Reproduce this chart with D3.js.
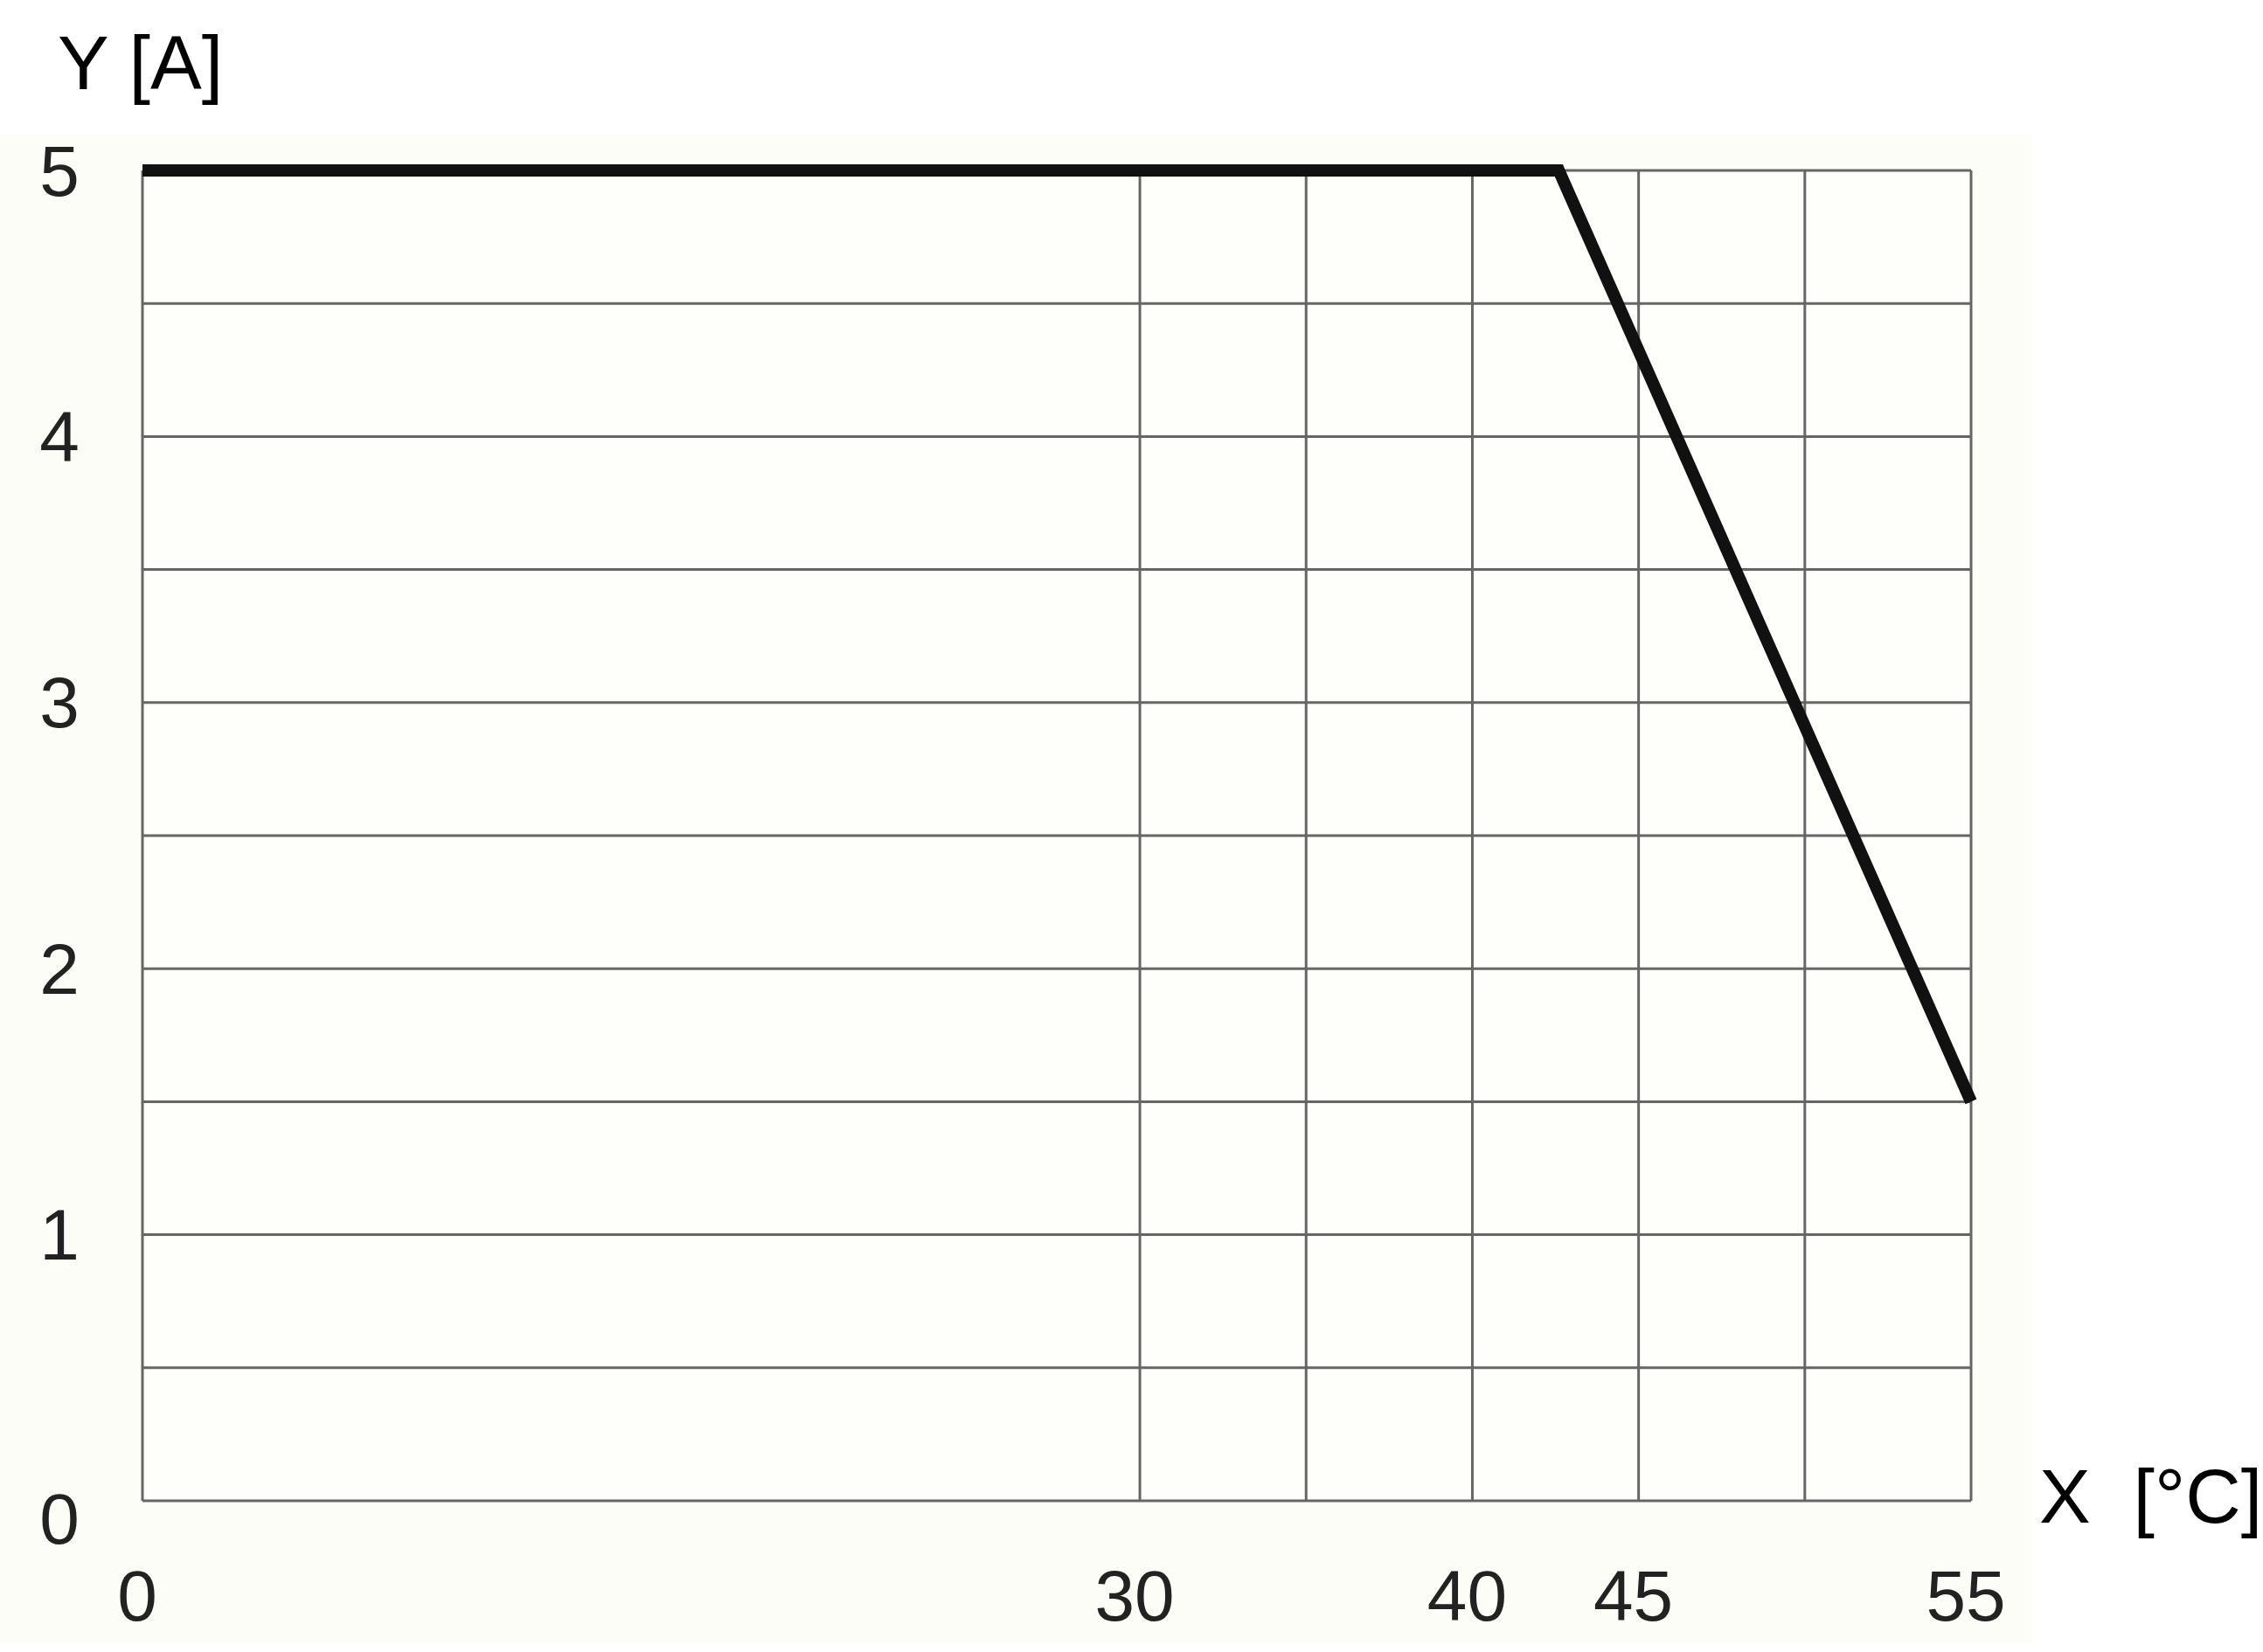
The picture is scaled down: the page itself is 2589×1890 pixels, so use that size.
<!DOCTYPE html>
<html><head><meta charset="utf-8">
<script src="https://cdn.jsdelivr.net/npm/d3@7"></script>
<style>html,body{margin:0;padding:0;background:#fff;}svg{display:block;}</style>
</head><body>
<svg id="chart" width="2589" height="1890"></svg>
<script>
const xLabelTicks = [0, 30, 40, 45, 55];
const xGridTicks = [0, 30, 35, 40, 45, 50, 55];
const yLabelTicks = [0, 1, 2, 3, 4, 5];
const yGridTicks = [0, 0.5, 1, 1.5, 2, 2.5, 3, 3.5, 4, 4.5, 5];
const curveX = [0, 42.6, 55];
const curveY = [5, 5, 1.5];
const yTitle = "Y [A]";
const xTitle = "X\u00a0\u00a0[\u00b0C]";

const svg = d3.select("#chart");
const font = "Liberation Sans, Arial, sans-serif";
const L = 163, R = 2255, T = 195, B = 1717;
const x = d3.scaleLinear().domain([0, 55]).range([L, R]);
const y = d3.scaleLinear().domain([0, 5]).range([B, T]);

svg.append("rect").attr("x", 0).attr("y", 155).attr("width", 2325).attr("height", 1725).attr("fill", "#fdfdf7");
svg.append("rect").attr("x", L).attr("y", T).attr("width", R - L).attr("height", B - T).attr("fill", "#fefefb");

const g = svg.append("g");
g.selectAll("line.h").data(yGridTicks).join("line").attr("class", "h")
  .attr("x1", L).attr("x2", R).attr("y1", d => y(d)).attr("y2", d => y(d))
  .attr("stroke", "#666").attr("stroke-width", 3);
g.selectAll("line.v").data(xGridTicks).join("line").attr("class", "v")
  .attr("x1", d => x(d)).attr("x2", d => x(d)).attr("y1", T).attr("y2", B)
  .attr("stroke", "#666").attr("stroke-width", 3);

const pts = curveX.map((d, i) => [d, curveY[i]]);
svg.append("path").datum(pts)
  .attr("d", d3.line().x(d => x(d[0])).y(d => y(d[1])))
  .attr("fill", "none").attr("stroke", "#111").attr("stroke-width", 14)
  .attr("stroke-linejoin", "miter").attr("stroke-linecap", "butt");

svg.selectAll("text.yt").data(yLabelTicks).join("text").attr("class", "yt")
  .attr("x", 68).attr("y", d => y(d) + (d === 0 ? 20 : 0))
  .attr("text-anchor", "middle").attr("dominant-baseline", "central")
  .attr("font-family", font).attr("font-size", 82).attr("fill", "#222")
  .text(d => d);

svg.selectAll("text.xt").data(xLabelTicks).join("text").attr("class", "xt")
  .attr("x", d => x(d) - 6).attr("y", 1854)
  .attr("text-anchor", "middle")
  .attr("font-family", font).attr("font-size", 82).attr("fill", "#222")
  .text(d => d);

svg.append("text").attr("x", 66).attr("y", 102)
  .attr("font-family", font).attr("font-size", 88).attr("fill", "#000").text(yTitle);
svg.append("text").attr("x", 2333).attr("y", 1742)
  .attr("font-family", font).attr("font-size", 88).attr("fill", "#000").text(xTitle);
</script>
</body></html>
